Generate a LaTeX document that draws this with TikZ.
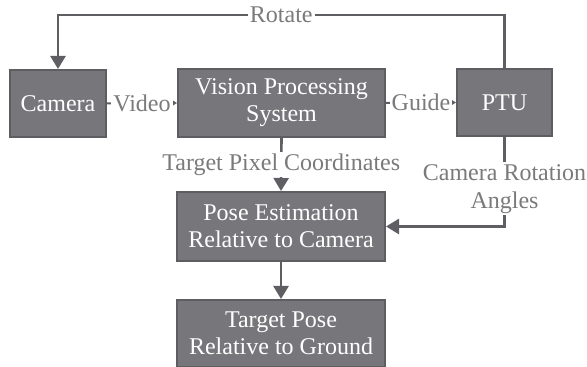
\documentclass[tikz,border=0pt]{standalone}
\usepackage{fontspec}
\setmainfont{Liberation Serif}
\usetikzlibrary{arrows.meta}

\definecolor{boxfill}{HTML}{77777B}
\definecolor{boxline}{HTML}{5E5E62}
\definecolor{wire}{HTML}{5F5F63}
\definecolor{labeltext}{HTML}{7A7A7A}

\tikzset{
  block/.style={draw=boxline, line width=1pt, fill=boxfill, text=white,
    align=center, inner sep=0pt, font=\rmfamily\fontsize{12}{13.5}\selectfont},
  wirelabel/.style={fill=white, text=labeltext, inner sep=1pt, align=center,
    font=\rmfamily\fontsize{12}{14}\selectfont},
  bigarrow/.style={draw=wire, line width=1.3pt,
    -{Triangle[width=7.5pt,length=6.5pt]}},
  smallarrow/.style={draw=wire, line width=1pt,
    -{Triangle[width=3.5pt,length=3pt]}}
}

\begin{document}
\begin{tikzpicture}[x=0.5pt,y=-0.5pt]
%
	\useasboundingbox (0,0) rectangle (587,367);
%
	\node[block, minimum width=48pt, minimum height=33.5pt] (cam) at (58,103.5) {Camera};
	\node[block, minimum width=103.5pt, minimum height=34pt] (vps) at (281.5,103) {Vision Processing\\System};
	\node[block, minimum width=47.5pt, minimum height=33.5pt] (ptu) at (504.5,102.5) {PTU};
	\node[block, minimum width=104pt, minimum height=34.5pt] (pose) at (281,226.5) {Pose Estimation\\Relative to Camera};
	\node[block, minimum width=104pt, minimum height=33.5pt] (tgt) at (281,333.5) {Target Pose\\Relative to Ground};
%
	\coordinate (rotR) at (504.5,15);
	\coordinate (rotL) at (58,15);
	\draw[bigarrow] (ptu.north) -- (rotR) -- node[wirelabel] {Rotate} (rotL) -- (cam.north);
	\draw[smallarrow] (cam.east) -- node[wirelabel] {Video} (vps.west);
	\draw[smallarrow] (vps.east) -- node[wirelabel] {Guide} (ptu.west);
	\draw[bigarrow] (vps.south) -- node[wirelabel, pos=0.5] {Target Pixel Coordinates} (pose.north);
	\draw[bigarrow] (ptu.south) |- node[wirelabel, pos=0.29] {Camera Rotation\\Angles} (pose.east);
	\draw[bigarrow] (pose.south) -- (tgt.north);
\end{tikzpicture}
\end{document}
